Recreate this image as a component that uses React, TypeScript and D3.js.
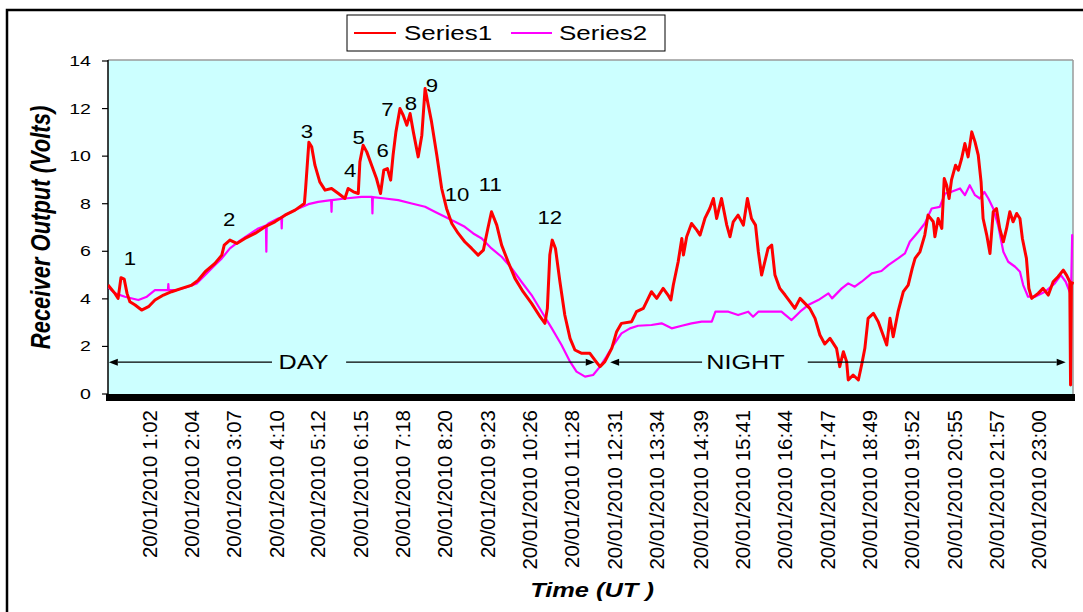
import React from "react";
import * as d3 from "d3";

// ---------- data (time in decimal hours UT, value in volts) ----------
const TIME_LABELS = ["1:02","2:04","3:07","4:10","5:12","6:15","7:18","8:20","9:23","10:26","11:28","12:31","13:34","14:39","15:41","16:44","17:47","18:49","19:52","20:55","21:57","23:00"];
const DATE_PREFIX = "20/01/2010";
const Y_TICKS = [0, 2, 4, 6, 8, 10, 12, 14];

const SERIES1: [number, number][] = [
  [0.00,4.58],[0.17,4.23],[0.25,4.02],[0.32,4.89],[0.40,4.83],[0.47,4.23],[0.54,3.88],[0.67,3.74],[0.83,3.53],[1.00,3.67],
  [1.16,3.95],[1.37,4.16],[1.57,4.30],[1.82,4.44],[2.07,4.58],[2.23,4.79],[2.40,5.14],[2.64,5.49],[2.81,5.84],[2.87,6.26],
  [3.01,6.47],[3.18,6.33],[3.38,6.54],[3.63,6.75],[3.88,7.03],[4.12,7.24],[4.37,7.52],[4.62,7.73],[4.85,8.01],[4.88,8.64],
  [4.96,10.58],[5.03,10.39],[5.11,9.62],[5.23,8.92],[5.36,8.57],[5.52,8.64],[5.69,8.43],[5.85,8.22],[5.93,8.64],[6.06,8.50],
  [6.18,8.43],[6.22,9.76],[6.30,10.46],[6.39,10.18],[6.51,9.62],[6.63,9.06],[6.73,8.43],[6.81,9.41],[6.90,9.48],[6.98,8.99],
  [7.04,10.04],[7.11,11.02],[7.21,12.00],[7.29,11.72],[7.38,11.30],[7.46,11.79],[7.54,11.02],[7.66,9.97],[7.75,10.88],[7.83,12.84],
  [7.91,12.14],[7.99,11.44],[8.12,10.04],[8.24,8.64],[8.36,7.80],[8.49,7.17],[8.65,6.75],[8.81,6.40],[8.98,6.12],[9.14,5.84],
  [9.27,6.05],[9.38,6.96],[9.47,7.66],[9.60,7.10],[9.72,6.26],[9.88,5.56],[10.05,4.86],[10.25,4.30],[10.46,3.81],[10.67,3.25],
  [10.79,2.97],[10.85,3.60],[10.91,5.84],[10.97,6.47],[11.05,6.12],[11.16,4.72],[11.28,3.32],[11.41,2.34],[11.53,1.85],[11.70,1.71],
  [11.90,1.71],[12.02,1.43],[12.15,1.15],[12.27,1.36],[12.44,1.92],[12.56,2.62],[12.68,2.97],[12.93,3.04],[13.05,3.46],[13.22,3.60],
  [13.34,4.02],[13.42,4.30],[13.55,4.02],[13.71,4.44],[13.83,4.16],[13.90,3.95],[13.96,4.58],[14.08,5.56],[14.17,6.54],[14.21,5.84],
  [14.29,6.61],[14.41,7.17],[14.54,6.89],[14.62,6.68],[14.74,7.38],[14.86,7.80],[14.95,8.22],[15.03,7.38],[15.15,8.22],[15.28,7.10],
  [15.36,6.61],[15.44,7.24],[15.56,7.52],[15.69,7.10],[15.79,8.22],[15.89,7.38],[15.99,7.10],[16.06,5.98],[16.14,5.00],[16.22,5.56],
  [16.30,6.12],[16.39,6.26],[16.47,5.00],[16.59,4.44],[16.72,4.16],[16.84,3.88],[16.96,3.60],[17.09,4.02],[17.21,3.81],[17.33,3.60],
  [17.46,3.18],[17.58,2.48],[17.70,2.10],[17.83,2.34],[17.99,1.92],[18.07,1.15],[18.16,1.78],[18.24,1.36],[18.28,0.59],[18.40,0.80],
  [18.53,0.59],[18.61,1.22],[18.69,1.92],[18.77,3.18],[18.90,3.39],[19.02,3.04],[19.14,2.48],[19.23,2.06],[19.31,3.18],[19.39,2.41],
  [19.51,3.46],[19.64,4.30],[19.76,4.58],[19.86,5.28],[19.93,5.70],[20.05,5.98],[20.17,6.68],[20.25,7.52],[20.38,7.24],[20.42,6.61],
  [20.50,7.38],[20.59,6.96],[20.65,9.06],[20.71,8.78],[20.77,8.22],[20.83,9.00],[20.93,9.62],[21.00,9.41],[21.08,9.90],[21.16,10.53],
  [21.24,9.97],[21.33,11.02],[21.41,10.60],[21.49,10.04],[21.56,8.92],[21.61,7.38],[21.70,6.68],[21.78,5.91],[21.86,7.66],[21.94,7.80],
  [22.02,6.96],[22.11,6.40],[22.19,6.96],[22.27,7.66],[22.35,7.24],[22.44,7.59],[22.52,7.38],[22.58,6.54],[22.68,5.70],[22.74,4.44],
  [22.81,4.02],[22.97,4.23],[23.09,4.44],[23.22,4.16],[23.34,4.72],[23.46,4.93],[23.59,5.21],[23.67,5.00],[23.75,4.72],[23.77,0.38],
  [23.79,4.58],[23.83,4.72]
];

const SERIES2: [number, number][] = [
  [0.00,4.51],[0.17,4.23],[0.42,4.09],[0.75,3.95],[0.96,4.09],[1.16,4.37],[1.41,4.37],[1.48,4.37],[1.49,4.62],[1.50,4.37],
  [1.70,4.37],[1.98,4.51],[2.19,4.65],[2.40,5.00],[2.60,5.35],[2.81,5.70],[3.01,6.12],[3.22,6.40],[3.46,6.68],[3.71,6.96],
  [3.90,7.08],[3.91,5.98],[3.92,7.10],[3.96,7.17],[4.20,7.38],[4.28,7.42],[4.29,6.96],[4.30,7.44],[4.45,7.59],[4.70,7.80],
  [4.95,7.98],[5.19,8.08],[5.51,8.15],[5.52,7.66],[5.53,8.15],[5.85,8.22],[6.26,8.29],[6.52,8.29],[6.53,7.59],[6.54,8.28],
  [6.84,8.22],[7.17,8.15],[7.50,8.01],[7.83,7.87],[8.07,7.66],[8.32,7.45],[8.57,7.24],[8.81,7.03],[9.02,6.75],[9.23,6.54],
  [9.47,6.12],[9.72,5.77],[9.97,5.28],[10.21,4.72],[10.46,4.16],[10.71,3.46],[10.96,2.76],[11.20,2.06],[11.41,1.36],[11.57,0.94],
  [11.78,0.73],[11.98,0.80],[12.15,1.15],[12.31,1.57],[12.48,2.06],[12.68,2.55],[12.89,2.76],[13.09,2.87],[13.42,2.90],[13.67,2.97],
  [13.92,2.76],[14.17,2.87],[14.41,2.97],[14.66,3.04],[14.91,3.04],[15.00,3.46],[15.32,3.46],[15.56,3.32],[15.81,3.46],[15.93,3.25],
  [16.06,3.46],[16.39,3.46],[16.63,3.46],[16.88,3.11],[17.09,3.46],[17.29,3.74],[17.54,3.95],[17.79,4.23],[17.88,4.02],[18.12,4.44],
  [18.28,4.65],[18.44,4.51],[18.61,4.72],[18.86,5.07],[19.10,5.17],[19.27,5.42],[19.51,5.70],[19.68,5.91],[19.80,6.40],[20.01,6.82],
  [20.17,7.17],[20.34,7.80],[20.54,7.87],[20.67,8.43],[20.83,8.50],[21.04,8.64],[21.16,8.36],[21.28,8.78],[21.41,8.36],[21.53,8.22],
  [21.64,8.50],[21.74,8.22],[21.86,7.80],[21.98,7.10],[22.11,5.98],[22.23,5.56],[22.40,5.35],[22.52,5.14],[22.60,4.58],[22.72,4.09],
  [22.89,4.09],[23.14,4.30],[23.38,4.65],[23.53,5.00],[23.65,4.72],[23.78,4.16],[23.81,6.68],[23.83,6.68]
];

// event numbers placed at (time, volts)
const EVENT_LABELS: [string, number, number][] = [
  ["1",0.54,5.67],["2",2.99,7.31],["3",4.91,11.03],["4",5.98,9.41],["5",6.19,10.76],["6",6.78,10.25],
  ["7",6.90,11.97],["8",7.48,12.21],["9",8.00,12.98],["10",8.62,8.38],["11",9.44,8.80],["12",10.91,7.42]
];
const ARROW_LEVEL = 1.34;
const DAY_ARROW = { tipL: 0.02, gapL: 4.05, gapR: 5.88, tipR: 12.02, label: "DAY", at: 4.83 };
const NIGHT_ARROW = { tipL: 12.40, gapL: 14.67, gapR: 17.28, tipR: 23.65, label: "NIGHT", at: 15.74 };

// ---------- layout ----------
const W = 1083, H = 612;
const PX0 = 108, PX1 = 1073, PY0 = 61, PY1 = 394;
const FONT = "'Liberation Sans', Arial, sans-serif";

const x = d3.scaleLinear().domain([0, 23.83]).range([PX0, PX1]);
const y = d3.scaleLinear().domain([0, 14]).range([PY1, PY0]);
const lineGen = d3.line<[number, number]>().x(d => x(d[0])).y(d => y(d[1]));

function parseHours(s: string) {
  const [h, m] = s.split(":").map(Number);
  return h + m / 60;
}

function Txt(props: {
  x: number; y: number; sx?: number; rot?: number; fs: number; anchor?: string;
  base?: string; weight?: string; italic?: boolean; children: React.ReactNode;
}) {
  const { sx = 1, rot = 0 } = props;
  return (
    <text
      transform={`translate(${props.x},${props.y}) scale(${sx},1)${rot ? ` rotate(${rot})` : ""}`}
      fontSize={props.fs}
      fontFamily={FONT}
      textAnchor={props.anchor || "middle"}
      dominantBaseline={props.base || "auto"}
      fontWeight={props.weight || "normal"}
      fontStyle={props.italic ? "italic" : "normal"}
      fill="#000"
    >
      {props.children}
    </text>
  );
}

function Arrow({ a }: { a: typeof DAY_ARROW }) {
  const yy = y(ARROW_LEVEL);
  const xl = x(a.tipL), xr = x(a.tipR);
  const gl = x(a.gapL), gr = x(a.gapR);
  const hl = 9, hw = 3.5;
  return (
    <g>
      <line x1={xl + hl} y1={yy} x2={gl} y2={yy} stroke="#000" strokeWidth={1.3} />
      <line x1={gr} y1={yy} x2={xr - hl} y2={yy} stroke="#000" strokeWidth={1.3} />
      <polygon points={`${xl},${yy} ${xl + hl},${yy - hw} ${xl + hl},${yy + hw}`} fill="#000" />
      <polygon points={`${xr},${yy} ${xr - hl},${yy - hw} ${xr - hl},${yy + hw}`} fill="#000" />
      <Txt x={x(a.at)} y={yy} fs={21} sx={1.2} base="central">{a.label}</Txt>
    </g>
  );
}

export default function App() {
  return (
    <svg width={W} height={H} style={{ position: "absolute", left: 0, top: 0, background: "#fff" }}>
      {/* outer frame */}
      <rect x={7} y={10} width={W + 20} height={H + 20} fill="#fff" stroke="#000" strokeWidth={2.5} />

      {/* legend */}
      <rect x={347} y={15} width={318} height={36} fill="#fff" stroke="#000" strokeWidth={1} />
      <line x1={354} y1={33} x2={396} y2={33} stroke="#ff0000" strokeWidth={2} />
      <Txt x={404} y={40} fs={20} sx={1.3} anchor="start">Series1</Txt>
      <line x1={511} y1={33} x2={552} y2={33} stroke="#ff00ff" strokeWidth={2} />
      <Txt x={559} y={40} fs={20} sx={1.3} anchor="start">Series2</Txt>

      {/* plot area */}
      <rect x={PX0} y={PY0 - 1} width={PX1 - PX0} height={PY1 - PY0 + 1} fill="#ccffff" stroke="none" />
      <line x1={PX0} y1={PY0 - 1} x2={PX1} y2={PY0 - 1} stroke="#9a9a9a" strokeWidth={1.5} />
      <line x1={PX1} y1={PY0 - 1} x2={PX1} y2={PY1} stroke="#9a9a9a" strokeWidth={1.5} />

      {/* y axis */}
      <line x1={PX0} y1={PY0 - 1} x2={PX0} y2={PY1 + 4} stroke="#000" strokeWidth={1.5} />
      {Y_TICKS.map(t => (
        <g key={t}>
          <line x1={PX0 - 6} y1={y(t)} x2={PX0} y2={y(t)} stroke="#000" strokeWidth={1.2} />
          <Txt x={PX0 - 17} y={y(t)} fs={14.5} sx={1.35} anchor="end" base="central">{String(t)}</Txt>
        </g>
      ))}
      <Txt x={50} y={(PY0 + PY1) / 2} fs={22} sx={1.22} rot={-90} weight="bold" italic>Receiver Output (Volts)</Txt>

      {/* series */}
      <clipPath id="plotclip"><rect x={PX0} y={PY0 - 2} width={PX1 - PX0 + 1} height={PY1 - PY0 + 2} /></clipPath>
      <g clipPath="url(#plotclip)">
        <path d={lineGen(SERIES2) || ""} fill="none" stroke="#ff00ff" strokeWidth={2.2} strokeLinejoin="round" />
        <path d={lineGen(SERIES1) || ""} fill="none" stroke="#ff0000" strokeWidth={3} strokeLinejoin="round" />
      </g>

      {/* event labels */}
      {EVENT_LABELS.map(([s, t, v]) => (
        <Txt key={s} x={x(t)} y={y(v)} fs={18.5} sx={1.2} base="central">{s}</Txt>
      ))}

      <Arrow a={DAY_ARROW} />
      <Arrow a={NIGHT_ARROW} />

      {/* x axis bar */}
      <rect x={PX0 - 2} y={PY1} width={PX1 - PX0 + 4} height={7} fill="#000" />

      {/* x tick labels */}
      {TIME_LABELS.map(l => (
        <Txt key={l} x={x(parseHours(l))} y={410} fs={20.5} sx={0.95} rot={-90} anchor="end" base="central">
          {`${DATE_PREFIX} ${l}`}
        </Txt>
      ))}
      <Txt x={592} y={597} fs={20} sx={1.27} weight="bold" italic>Time (UT )</Txt>
    </svg>
  );
}
